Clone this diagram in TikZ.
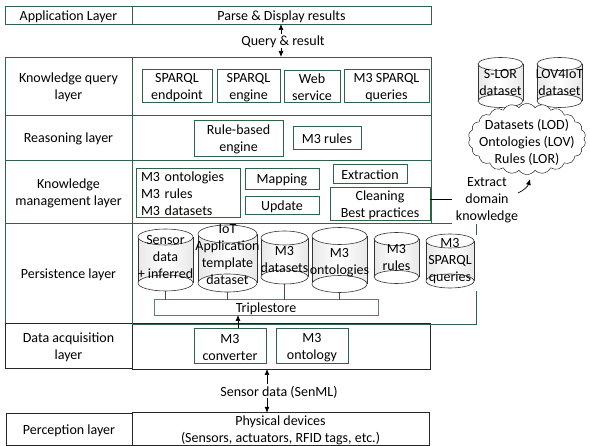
\documentclass[tikz,border=0pt]{standalone}
\usepackage{fontspec}
\setmainfont{Carlito}
\usetikzlibrary{arrows.meta, shapes, shapes.symbols}

\definecolor{layergreen}{HTML}{2F6349}

% push a multi-line text down or up in its box
\newcommand{\pushdown}[1]{\rule{0pt}{#1pt}}
\newcommand{\pushup}{\rule[-7pt]{0pt}{7pt}}

\tikzset{
every node/.style={font=\fontsize{14}{17}\selectfont, inner sep=0, outer sep=0},
layer/.style={draw=layergreen, align=center, line width=0.8pt, execute at begin node={\rule{0pt}{13pt}}},
blacklayer/.style={layer, draw=black!85},
item/.style={layer},
linktext/.style={fill=white, execute at begin node={\rule{0pt}{12pt}}},
canbody/.style={left color=gray!18, right color=gray!18, middle color=white},
canend/.style={draw=black!80, fill=white, line width=0.6pt}
}

% database can: name, x centre, y of top ellipse, y of bottom ellipse, x radius, y radius, text
\newcommand{\dbcan}[7]{
\pgfmathsetmacro{\canleft}{#2-#5}
\pgfmathsetmacro{\canright}{#2+#5}
\pgfmathsetmacro{\canmid}{(#3+#4)/2}
\pgfmathsetmacro{\canheight}{#4-#3+2*#6}
\fill [canbody] (\canleft,#3) rectangle (\canright,#4);
\draw [black!80, line width=0.6pt] (\canleft,#3) -- (\canleft,#4) (\canright,#3) -- (\canright,#4);
\draw [canend] (#2,#4) ellipse [x radius=#5pt, y radius=#6pt];
\draw [canend] (#2,#3) ellipse [x radius=#5pt, y radius=#6pt];
\node [minimum width=2*#5, minimum height=\canheight, align=center] (#1) at (#2,\canmid) {#7};
}

\begin{document}
\begin{tikzpicture}[x=1pt, y=-1pt, >={Latex[length=6pt,width=5pt]}]
\useasboundingbox (0,0) rectangle (590,446);

% left column and right column of each layer
\node [layer, minimum width=127, minimum height=18] (applabel) at (68.5,15) {Application Layer};
\node [layer, minimum width=299, minimum height=18] (appbox) at (281.5,15) {Parse \& Display results};
\node [layer, minimum width=127, minimum height=58] (querylabel) at (68.5,86) {\pushdown{13}Knowledge query\\layer};
\node [layer, minimum width=299, minimum height=58] (querybox) at (281.5,86) {};
\node [layer, minimum width=127, minimum height=45] (reasonlabel) at (68.5,137.5) {Reasoning layer};
\node [layer, minimum width=299, minimum height=45] (reasonbox) at (281.5,137.5) {};
\node [layer, minimum width=127, minimum height=63] (manlabel) at (68.5,191.5) {\pushdown{13}Knowledge\\management layer};
\node [layer, minimum width=127, minimum height=100] (perslabel) at (68.5,273) {Persistence layer};
\node [blacklayer, minimum width=127, minimum height=45] (acqlabel) at (68.5,345.5) {\pushdown{13}Data acquisition\\layer};
\node [blacklayer, minimum width=298, minimum height=46] (acqbox) at (281,346) {};
\node [blacklayer, minimum width=126, minimum height=32] (perclabel) at (69,429) {Perception layer};
\node [blacklayer, minimum width=297, minimum height=32] (percbox) at (280.5,429) {\pushdown{13}Physical devices\\(Sensors, actuators, RFID tags, etc.)};

% management and persistence outlines
\draw [layergreen, line width=0.8pt] (452,223) -- (132,223) -- (132,160);
\draw [layergreen, line width=0.8pt] (431,160) -- (431,223);
\draw [layergreen, line width=0.8pt] (132,223) -- (132,324) -- (476,324) -- (476,291);
\draw [layergreen, line width=0.8pt] (476,235) -- (476,224);

% query layer
\node [item, minimum width=70, minimum height=32] (endpoint) at (177,86) {\pushdown{13}SPARQL\\endpoint};
\node [item, minimum width=63, minimum height=32] (engine) at (248.5,86) {\pushdown{13}SPARQL\\engine};
\node [item, minimum width=56, minimum height=32] (webservice) at (312,86) {\pushdown{13}Web\\service};
\node [item, minimum width=85, minimum height=32] (m3queries) at (386.5,86) {\pushdown{13}M3 SPARQL\\queries};

% reasoning layer
\node [item, minimum width=89, minimum height=36] (rulengine) at (238.5,138) {\pushdown{13}Rule-based\\engine};
\node [item, minimum width=68, minimum height=23] (m3rules) at (327,137.5) {M3 rules};

% management layer
\node [item, minimum width=104, minimum height=49, align=left, text width=94] (m3all) at (188,192.5) {M3 ontologies\\M3 rules\\M3 datasets};
\node [item, minimum width=74, minimum height=21] (mapping) at (282,178.5) {Mapping};
\node [item, minimum width=74, minimum height=18] (update) at (282,205) {Update};
\node [item, minimum width=74, minimum height=19] (extraction) at (370,173.5) {Extraction};
\node [item, minimum width=100, minimum height=33] (cleaning) at (380,203.5) {\pushdown{13}Cleaning\\Best practices};

% persistence layer
\dbcan{sensorcan}{165.5}{237}{283}{27.5}{8}{Sensor\\data\\+ inferred\pushup}
\dbcan{iotcan}{227.5}{234}{283}{29.5}{9}{IoT\\Application\\template\\dataset\pushup}
\dbcan{datasetcan}{284.5}{238}{277}{23.5}{7}{\pushdown{14}M3\\datasets}
\dbcan{ontocan}{339.5}{236}{284}{27.5}{8.5}{\pushdown{14}M3\\ontologies}
\dbcan{rulescan}{396.5}{239}{277}{22.5}{6.5}{M3\\rules}
\dbcan{querycan}{450}{241}{281}{24}{7}{M3\\SPARQL\\queries}
\node [item, minimum width=224, minimum height=15, draw=layergreen!80] (triplestore) at (266,307.5) {Triplestore};
\foreach \can in {sensorcan, iotcan, datasetcan, ontocan}
  \draw [black!70, line width=0.7pt] (\can.south) -- (\can.south |- triplestore.north);

% acquisition layer
\node [item, minimum width=72, minimum height=35] (converter) at (230,345.5) {\pushdown{13}M3\\converter};
\node [item, minimum width=72, minimum height=35] (m3onto) at (312,345.5) {\pushdown{13}M3\\ontology};
\coordinate (triplein) at (238,315);
\draw [->, line width=0.7pt] (triplein |- converter.north) -- (triplein);

% links between layers
\coordinate (queryx) at (281,0);
\draw [<->, line width=0.7pt] (queryx |- appbox.south) -- (queryx |- querybox.north);
\node [linktext] (querytext) at (283,41) {Query \& result};
\coordinate (sensorx) at (267,0);
\draw [<->, line width=0.7pt] (sensorx |- acqbox.south) -- (sensorx |- percbox.north);
\node [linktext] (sensortext) at (279,391) {Sensor data (SenML)};

% external sources
\dbcan{slorcan}{500.5}{64}{101}{22.5}{6.5}{S-LOR\\dataset}
\dbcan{lovcan}{559.5}{64}{101}{22.5}{6.5}{LOV4IoT\\dataset}
\node [cloud, draw=black, fill=white, cloud puffs=22, cloud puff arc=110, aspect=1.8, align=center, inner sep=-7.5pt] (sources) at (527,139) {\pushdown{17}Datasets (LOD)\\Ontologies (LOV)\\Rules (LOR)};
\node [align=center] (extract) at (487,200) {Extract\\domain\\knowledge};
\coordinate (extractend) at (452,199);
\draw [black, line width=0.7pt] (cleaning.east |- extractend) -- (extractend);
\coordinate (curvestart) at (518,193);
\coordinate (curveend) at (530,179);
\draw [->, line width=0.7pt] (curvestart) to [bend right=25] (curveend);
\end{tikzpicture}
\end{document}
